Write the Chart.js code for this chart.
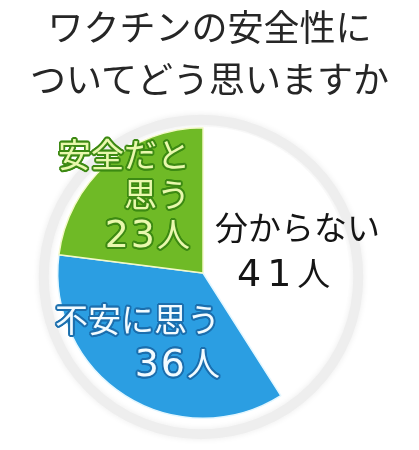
<!DOCTYPE html>
<html>
<head>
<meta charset="utf-8">
<script src="https://cdn.jsdelivr.net/npm/chart.js@4/dist/chart.umd.min.js"></script>
<style>
  html, body { margin: 0; padding: 0; background: #fff; }
  #wrap { position: relative; width: 419px; height: 450px; overflow: hidden; }
  #chart { position: absolute; left: 0; top: 0; }
  .title { position: absolute; left: 0; width: 419px; text-align: center; font-family: "Noto Sans CJK JP", sans-serif; font-size: 36px; line-height: 36px; color: #262626; white-space: nowrap; }
  .lbl { position: absolute; font-family: "Noto Sans CJK JP", sans-serif; font-size: 33px; line-height: 33px; white-space: nowrap; }
  .num { font-family: "DejaVu Sans", sans-serif; font-size: 38px; }
</style>
</head>
<body>
<div id="wrap">
  <canvas id="chart" width="419" height="450"></canvas>
</div>
<script>
// title lines
const titleLines = ['ワクチンの安全性に', 'ついてどう思いますか'];
// answers, clockwise from 12 o'clock ("\n" marks a label line break)
const categories = ['分からない', '不安に思う', '安全だと\n思う'];
const counts = [41, 36, 23];
const unit = '人';

const sliceColors = ['#ffffff', '#2b9ee2', '#6fba26'];

// label placement and look, same order as categories
const labelStyle = [
  { left: 215, top: 210, align: 'left', color: '#151515', outline: null, numIndent: 22, numGap: 6, numRow: 50 },
  { right: 199, top: 302, align: 'right', color: '#f2fbff', outline: '#1c6fae', numIndent: 0, numGap: 2, numRow: 48 },
  { right: 229, top: 137, align: 'right', color: '#e9f8ad', outline: '#3d8a14', numIndent: 0, numGap: 2, numRow: 40 }
];

const wrap = document.getElementById('wrap');

titleLines.forEach((t, i) => {
  const d = document.createElement('div');
  d.className = 'title';
  d.style.top = (7 + i * 52) + 'px';
  d.textContent = t;
  wrap.appendChild(d);
});

function outline(c){
  if(!c) return 'none';
  const s = [];
  for(let a = 0; a < 16; a++){
    const r = a * Math.PI / 8;
    s.push((Math.cos(r) * 1.8).toFixed(2) + 'px ' + (Math.sin(r) * 1.8).toFixed(2) + 'px 0 ' + c);
  }
  return s.join(',');
}

categories.forEach((cat, i) => {
  const st = labelStyle[i];
  const d = document.createElement('div');
  d.className = 'lbl';
  d.style.top = st.top + 'px';
  if(st.align === 'left') d.style.left = st.left + 'px';
  else d.style.right = st.right + 'px';
  d.style.textAlign = st.align;
  d.style.color = st.color;
  d.style.textShadow = outline(st.outline);
  const lines = cat.split('\n');
  let html = lines.map(l => '<div style="height:40px">' + l + '</div>').join('');
  html += '<div style="padding-top:' + (st.numRow - 44) + 'px;padding-left:' + st.numIndent + 'px">' +
    '<span class="num" style="letter-spacing:' + st.numGap + 'px">' + counts[i] + '</span>' + unit + '</div>';
  d.innerHTML = html;
  wrap.appendChild(d);
});

// soft grey ring round the pie
const ringPlugin = {
  id: 'ring',
  beforeDatasetsDraw(chart){
    const arc = chart.getDatasetMeta(0).data[0];
    if(!arc) return;
    const ctx = chart.ctx;
    ctx.save();
    ctx.beginPath();
    ctx.arc(arc.x - 2, arc.y + 4, arc.outerRadius + 12, 0, Math.PI * 2);
    ctx.lineWidth = 10;
    ctx.strokeStyle = '#eeeeee';
    ctx.shadowColor = 'rgba(0,0,0,0.08)';
    ctx.shadowBlur = 6;
    ctx.stroke();
    ctx.restore();
  }
};

new Chart(document.getElementById('chart'), {
  type: 'pie',
  data: {
    labels: categories.map(c => c.replace('\n', '')),
    datasets: [{
      data: counts,
      backgroundColor: sliceColors,
      borderColor: ['#ffffff', '#e4f7ff', '#f3f9c8'],
      borderWidth: 1.5
    }]
  },
  options: {
    responsive: false,
    animation: false,
    layout: { padding: { left: 57, top: 127, right: 70, bottom: 31 } },
    plugins: { legend: { display: false }, tooltip: { enabled: false } }
  },
  plugins: [ringPlugin]
});
</script>
</body>
</html>
